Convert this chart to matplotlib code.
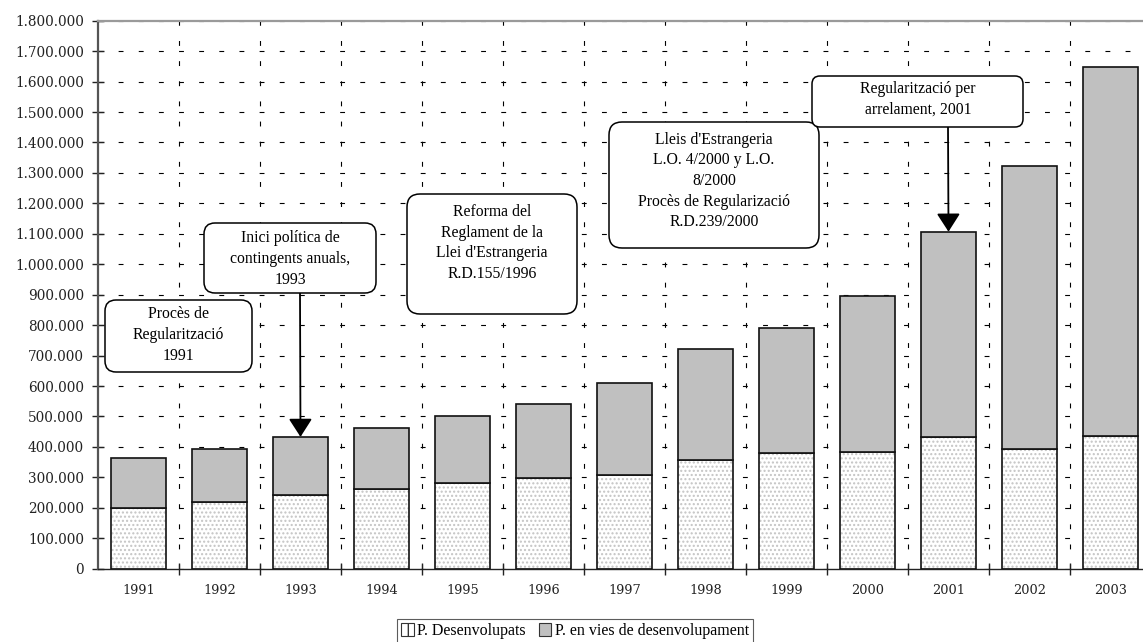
import matplotlib
matplotlib.use("Agg")
import matplotlib.pyplot as plt
import numpy as np
from matplotlib.patches import FancyBboxPatch, Patch
from matplotlib.transforms import Affine2D
from matplotlib.ticker import FuncFormatter, MultipleLocator

# === dades ===
anys = ["1991", "1992", "1993", "1994", "1995", "1996", "1997",
        "1998", "1999", "2000", "2001", "2002", "2003"]
desenvolupats = [200000, 220000, 241000, 262000, 280000, 297000, 309000,
                 356000, 379000, 382000, 433000, 394000, 436000]
totals = [363000, 394000, 433000, 462000, 500000, 542000, 611000,
          722000, 790000, 896000, 1107000, 1324000, 1647000]
en_vies = [t - d for t, d in zip(totals, desenvolupats)]

serie_labels = ["P. Desenvolupats", "P. en vies de desenvolupament"]

notes = [
    "Procès de\nRegularització\n1991",
    "Inici política de\ncontingents anuals,\n1993",
    "Reforma del\nReglament de la\nLlei d'Estrangeria\nR.D.155/1996",
    "Lleis d'Estrangeria\nL.O. 4/2000 y L.O.\n8/2000\nProcès de Regularizació\nR.D.239/2000",
    "Regularització per\narrelament, 2001",
]

W, H = 1143, 642
plt.rcParams["lines.scale_dashes"] = False
fig = plt.figure(figsize=(W / 100, H / 100), dpi=100)
ax = fig.add_axes([98 / W, (H - 568.7) / H, (W - 98) / W, (568.7 - 20.7) / H])

# coordenades en pixels de la imatge (y cap avall)
px = Affine2D().scale(1, -1).translate(0, H).scale(1 / W, 1 / H) + fig.transFigure

x = np.arange(len(anys))
bw = 0.68
gris = "#c0c0c0"

ax.bar(x, desenvolupats, bw, color="white", edgecolor="#c4c4c4", hatch="....",
       linewidth=0, zorder=2)
ax.bar(x, desenvolupats, bw, fill=False, edgecolor="#111111", linewidth=1.2, zorder=3)
ax.bar(x, en_vies, bw, bottom=desenvolupats, color=gris, edgecolor="#111111",
       linewidth=1.2, zorder=3)

ax.set_xlim(-0.5, -0.5 + (W - 98) / 81)
ax.set_ylim(0, 1800000)
ax.yaxis.set_major_locator(MultipleLocator(100000))
ax.yaxis.set_major_formatter(FuncFormatter(lambda v, p: f"{int(v):,}".replace(",", ".")))
ax.set_xticks(x)
ax.set_xticklabels(anys)
ax.set_xticks(x[:-1] + 0.5, minor=True)

for lab in ax.get_yticklabels():
    lab.set_fontfamily("DejaVu Serif")
    lab.set_fontsize(9.8)
for lab in ax.get_xticklabels():
    lab.set_fontfamily("DejaVu Serif")
    lab.set_fontsize(9.3)
ax.tick_params(axis="y", direction="inout", length=8, width=1, pad=6, colors="#222222")
ax.tick_params(axis="x", which="major", length=0, pad=11, colors="#222222")
ax.tick_params(axis="x", which="minor", direction="inout", length=8, width=1, color="#222222")

ax.grid(axis="y", which="major", color="black", linewidth=0.8, dashes=(3.5, 11), zorder=1)
ax.grid(axis="x", which="minor", color="black", linewidth=0.8, dashes=(3.5, 11), zorder=1)
ax.set_axisbelow(True)

ax.spines["left"].set_color("#555555")
ax.spines["left"].set_linewidth(1.6)
ax.spines["bottom"].set_color("#222222")
ax.spines["bottom"].set_linewidth(1.0)
ax.spines["top"].set_color("#9a9a9a")
ax.spines["top"].set_linewidth(1.6)
ax.spines["right"].set_visible(False)

# caixes de text (x0, y0, x1, y1, centre text x, centre text y, radi)
caixes = [
    (105, 300, 252, 372, 178, 335, 11),
    (204, 223, 376, 293, 290, 259, 11),
    (407, 194, 577, 314, 492, 243, 13),
    (609, 122, 819, 248, 714, 181, 13),
    (812, 76, 1023, 127, 918, 99, 8),
]
for (x0, y0, x1, y1, tx, ty, r), txt in zip(caixes, notes):
    box = FancyBboxPatch((x0, H - y1), x1 - x0, y1 - y0,
                         boxstyle=f"round,pad=0,rounding_size={r}",
                         transform=Affine2D().scale(1 / W, 1 / H) + fig.transFigure,
                         facecolor="white", edgecolor="black", linewidth=1.1, zorder=6)
    fig.add_artist(box)
    fig.text(tx / W, 1 - ty / H, txt, ha="center", va="center", fontsize=11.3,
             family="Liberation Serif", linespacing=1.38, zorder=7)

# fletxes cap a les barres
for i, (sx, sy) in [(2, (300, 293)), (10, (948, 127))]:
    ax.annotate("", xy=(x[i], totals[i]), xycoords="data",
                xytext=(sx, sy), textcoords=px,
                arrowprops=dict(arrowstyle="-|>,head_length=0.7,head_width=0.45",
                                color="black", lw=1.3, shrinkA=0, shrinkB=0,
                                mutation_scale=16),
                zorder=8, annotation_clip=False)

handles = [Patch(facecolor="white", edgecolor="#333333", hatch="|", linewidth=0.8),
           Patch(facecolor=gris, edgecolor="#333333", linewidth=0.8)]
leg = fig.legend(handles, serie_labels, loc="center", bbox_to_anchor=(575, 631),
                 bbox_transform=px, ncol=2, frameon=True, fancybox=False,
                 edgecolor="#333333", handlelength=0.8, handleheight=0.8,
                 handletextpad=0.2, columnspacing=0.8, borderpad=0.25,
                 prop=dict(family="Liberation Serif", size=11.5))
leg.get_frame().set_linewidth(0.8)

fig.savefig("out.png", dpi=100)
